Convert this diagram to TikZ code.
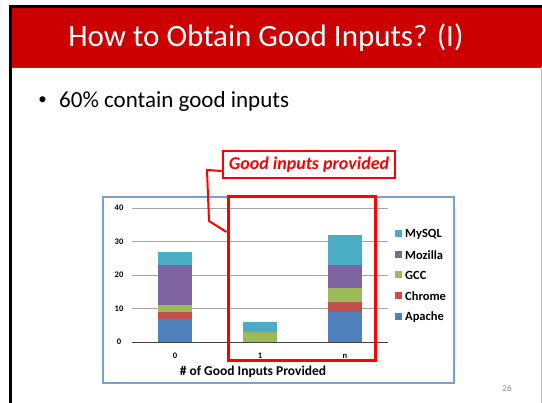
\documentclass[tikz,border=0pt]{standalone}
\usepackage{fontspec}
\setmainfont{Carlito}
\definecolor{slidered}{HTML}{CC0000}
\definecolor{apache}{HTML}{4F81BD}
\definecolor{chrome}{HTML}{C0504D}
\definecolor{gcc}{HTML}{9BBB59}
\definecolor{mozilla}{HTML}{8064A2}
\definecolor{mysql}{HTML}{4BACC6}
\definecolor{chartframe}{HTML}{7BA0CD}

\begin{document}
\begin{tikzpicture}[x=1pt,y=-1pt,
  tick/.style={font=\fontsize{8.5}{10}\selectfont\bfseries},
  legendtext/.style={anchor=west,inner sep=0pt,font=\fontsize{12.5}{14}\selectfont\bfseries},
  grid/.style={draw=black!35,line width=0.7pt}]
\useasboundingbox (0,0) rectangle (542,403);
% slide frame and title bar
\fill[black] (9,5) rectangle (542,8);
\fill[black] (9,5) rectangle (12,403);
\fill[slidered] (12,8) rectangle (542,67);
\draw[black!70,line width=0.6pt] (12,67) -- (542,67);
\draw[black!25,line width=0.8pt] (541,67) -- (541,403);
\node[text=white,font=\fontsize{31}{36}\selectfont] (title) at (266,38) {How to Obtain Good Inputs? (I)};
\node[font=\fontsize{17}{17}\selectfont] (dot) at (42.5,101) {\textbullet};
\node[anchor=west,inner sep=0pt,font=\fontsize{23}{27}\selectfont] (bullet) at (59,101) {60\% contain good inputs};
% chart
\draw[chartframe,line width=1.2pt] (103,197) rectangle (454,383);
\foreach \v in {10,20,30,40}
  \draw[grid] (132,342-3.35*\v) -- (388,342-3.35*\v);
\foreach \v in {0,10,20,30,40}
  \node[tick] at (119,342-3.35*\v) {\v};
% stacked bars: apache, chrome, gcc, mozilla, mysql (cumulative)
\foreach \cx/\a/\b/\c/\d/\e in {175/7/9/11/23/27, 260/0/0/3/3/6, 345/9/12/16/23/32} {
  \fill[apache]  (\cx-17,342) rectangle (\cx+17,342-3.35*\a);
  \fill[chrome]  (\cx-17,342-3.35*\a) rectangle (\cx+17,342-3.35*\b);
  \fill[gcc]     (\cx-17,342-3.35*\b) rectangle (\cx+17,342-3.35*\c);
  \fill[mozilla] (\cx-17,342-3.35*\c) rectangle (\cx+17,342-3.35*\d);
  \fill[mysql]   (\cx-17,342-3.35*\d) rectangle (\cx+17,342-3.35*\e);
}
\draw[black!75,line width=0.7pt] (132,342) -- (388,342);
\node[tick] (lab0) at (175,356) {0};
\node[tick] (lab1) at (260,356) {1};
\node[tick] (labn) at (345,356) {n};
\node[font=\fontsize{13.5}{15}\selectfont\bfseries] (xtitle) at (253,372) {\# of Good Inputs Provided};
% legend
\foreach \c/\t/\y in {mysql/MySQL/234, mozilla/Mozilla/255, gcc/GCC/275, chrome/Chrome/296, apache/Apache/317} {
  \fill[\c] (395,\y-3.5) rectangle (402,\y+3.5);
  \node[legendtext] at (405,\y) {\t};
}
% highlight and callout
\node[draw=red,line width=3pt,minimum width=147pt,minimum height=164pt,inner sep=0pt] (sel) at (301.5,279) {};
\node[draw=red,fill=white,line width=2.5pt,minimum width=172pt,minimum height=27pt,inner sep=0pt,
      text=red,font=\fontsize{18}{20}\selectfont\bfseries\itshape] (good) at (309,164.5) {Good inputs provided};
\draw[red,line width=2pt] (good.west |- 0,171) -- (207,170) -- (209,221) -- (sel.west |- 0,232);
\node[text=black!45,font=\fontsize{9}{10}\selectfont] (page) at (507,388) {26};
\end{tikzpicture}
\end{document}
